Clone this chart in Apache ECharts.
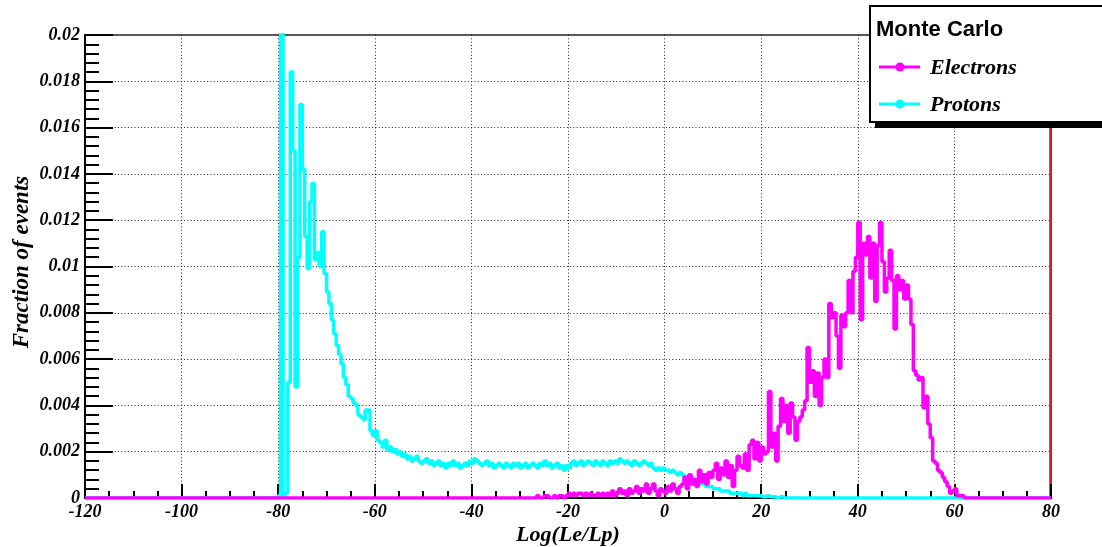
<!DOCTYPE html>
<html>
<head>
<meta charset="utf-8">
<script src="https://cdn.jsdelivr.net/npm/echarts@6/dist/echarts.min.js"></script>
<style>
html,body{margin:0;padding:0;background:#fff;}
#chart{width:1102px;height:547px;}
</style>
</head>
<body>
<div id="chart"></div>
<script>
// ---- data ----
const binWidth = 0.5;
const xRange = [-120, 80];
const yRange = [0, 0.02];
const xTickLabels = ['-120','-100','-80','-60','-40','-20','0','20','40','60','80'];
const yTickLabels = ['0','0.002','0.004','0.006','0.008','0.01','0.012','0.014','0.016','0.018','0.02'];
const seriesNames = ['Electrons', 'Protons'];
const legendTitle = 'Monte Carlo';

const protonStart = -80;
const protonValues = [
  // -80 .. -75.5
  0.0001, 0.0215, 0.0001, 0.0002, 0.0050, 0.0184, 0.0150, 0.0048, 0.0104, 0.0170,
  // -75 .. -70.5
  0.0142, 0.0113, 0.0099, 0.0128, 0.0136, 0.0103, 0.0106, 0.0100, 0.0115, 0.0097,
  // -70 .. -65.5
  0.0089, 0.0084, 0.0077, 0.0071, 0.0066, 0.0062, 0.0058, 0.0052, 0.0049, 0.0044,
  // -65 .. -60.5
  0.0043, 0.0041, 0.0040, 0.0036, 0.0035, 0.0034, 0.0038, 0.0038, 0.0029, 0.0027,
  // -60 .. -55.5
  0.0029, 0.0025, 0.0024, 0.0022, 0.0025, 0.0021, 0.0022, 0.0020, 0.0021, 0.0019,
  // -55 .. -50.5
  0.0020, 0.0018, 0.0019, 0.0017, 0.0018, 0.0016, 0.0017, 0.0018, 0.0016, 0.0015,
  // -50 .. -45.5
  0.0016, 0.0017, 0.0015, 0.0016, 0.0014, 0.0015, 0.0016, 0.0014, 0.0015, 0.0013,
  // -45 .. -40.5
  0.0015, 0.0014, 0.0016, 0.0014, 0.0015, 0.0013, 0.0014, 0.0015, 0.0014, 0.0016,
  // -40 .. -35.5
  0.0015, 0.0017, 0.0016, 0.0015, 0.0014, 0.0015, 0.0016, 0.0014, 0.0015, 0.0013,
  // -35 .. -30.5
  0.0014, 0.0015, 0.0014, 0.0013, 0.0015, 0.0014, 0.0013, 0.0015, 0.0014, 0.0015,
  // -30 .. -25.5
  0.0013, 0.0014, 0.0015, 0.0013, 0.0014, 0.0015, 0.0014, 0.0013, 0.0015, 0.0014,
  // -25 .. -20.5
  0.0016, 0.0014, 0.0015, 0.0013, 0.0014, 0.0015, 0.0013, 0.0014, 0.0012, 0.0014,
  // -20 .. -15.5
  0.0013, 0.0015, 0.0016, 0.0014, 0.0015, 0.0016, 0.0014, 0.0015, 0.0016, 0.0015,
  // -15 .. -10.5
  0.0014, 0.0016, 0.0015, 0.0014, 0.0016, 0.0015, 0.0014, 0.0016, 0.0015, 0.0016,
  // -10 .. -5.5
  0.0015, 0.0017, 0.0016, 0.0015, 0.0016, 0.0015, 0.0014, 0.0016, 0.0015, 0.0014,
  // -5 .. -0.5
  0.0015, 0.0016, 0.0015, 0.0014, 0.0015, 0.0013, 0.0012, 0.0013, 0.0012, 0.0013,
  // 0 .. 4.5
  0.0012, 0.0012, 0.0011, 0.0012, 0.0011, 0.0010, 0.0011, 0.0010, 0.0009, 0.0009,
  // 5 .. 9.5
  0.0008, 0.0009, 0.0008, 0.0007, 0.0007, 0.0006, 0.0006, 0.0005, 0.0005, 0.0005,
  // 10 .. 14.5
  0.0004, 0.0004, 0.0004, 0.0003, 0.0003, 0.0003, 0.0003, 0.0002, 0.0002, 0.0002,
  // 15 .. 19.5
  0.0002, 0.0002, 0.0001, 0.0002, 0.0001, 0.0001, 0.0001, 0.0001, 0.0001, 0.0001,
  // 20 .. 24.5
  0.00005, 0.00005, 0.0001, 0.00005, 0.00005, 0.00005, 0, 0.00005, 0.00005, 0
];

const electronStart = -27;
const electronValues = [
  // -27 .. -22.5
  0, 0.0001, 0, 0, 0.0001, 0.0001, 0, 0, 0.0001, 0,
  // -22 .. -17.5
  0.0001, 0.0001, 0, 0.0001, 0.0002, 0.0001, 0.0002, 0.0001, 0.0002, 0.0002,
  // -17 .. -12.5
  0.0001, 0.0002, 0.0001, 0.0002, 0.0001, 0.0001, 0.0002, 0.0001, 0.0002, 0.0001,
  // -12 .. -7.5
  0.0002, 0.0001, 0.0003, 0.0001, 0.0002, 0.0004, 0.0002, 0.0003, 0.0001, 0.0004,
  // -7 .. -2.5
  0.0002, 0.0003, 0.0005, 0.0002, 0.0004, 0.0003, 0.0006, 0.0002, 0.0004, 0.0006,
  // -2 .. 2.5
  0.0003, 0.0001, 0.0004, 0.0003, 0.0002, 0.0005, 0.0003, 0.0006, 0.0004, 0.0002,
  // 3 .. 7.5
  0.0005, 0.0006, 0.0009, 0.0004, 0.0010, 0.0006, 0.0008, 0.0005, 0.0012, 0.0007,
  // 8 .. 12.5
  0.0010, 0.0006, 0.0011, 0.0009, 0.0012, 0.0015, 0.0008, 0.0013, 0.0010, 0.0016,
  // 13 .. 17.5
  0.0009, 0.0014, 0.0005, 0.0012, 0.0018, 0.0014, 0.0013, 0.0019, 0.0012, 0.0023,
  // 18 .. 22.5
  0.0025, 0.0017, 0.0024, 0.0016, 0.0022, 0.0019, 0.0020, 0.0046, 0.0022, 0.0028,
  // 23 .. 27.5
  0.0016, 0.0031, 0.0043, 0.0033, 0.0040, 0.0028, 0.0041, 0.0035, 0.0025, 0.0033,
  // 28 .. 32.5
  0.0035, 0.0038, 0.0042, 0.0065, 0.0050, 0.0055, 0.0044, 0.0054, 0.0040, 0.0052,
  // 33 .. 37.5
  0.0060, 0.0052, 0.0084, 0.0078, 0.0080, 0.0070, 0.0056, 0.0079, 0.0074, 0.0080,
  // 38 .. 42.5
  0.0094, 0.0080, 0.0098, 0.0104, 0.0119, 0.0077, 0.0110, 0.0105, 0.0113, 0.0095,
  // 43 .. 47.5
  0.0110, 0.0085, 0.0109, 0.0119, 0.0102, 0.0089, 0.0095, 0.0107, 0.0094, 0.0073,
  // 48 .. 52.5
  0.0096, 0.0090, 0.0094, 0.0086, 0.0092, 0.0086, 0.0075, 0.0055, 0.0053, 0.0051,
  // 53 .. 57.5
  0.0052, 0.0039, 0.0044, 0.0032, 0.0026, 0.0016, 0.0015, 0.0012, 0.0011, 0.0009,
  // 58 .. 62.5
  0.0007, 0.0005, 0.0002, 0.0003, 0.0004, 0.0001, 0.0001, 0.0001, 0, 0
];

// ---- build histogram step points ----
function histPoints(start, vals) {
  const pts = [[xRange[0], 0]];
  vals.forEach((v, i) => pts.push([start + i * binWidth, v]));
  pts.push([start + vals.length * binWidth, 0]);
  pts.push([xRange[1], 0]);
  return pts;
}

const serifBI = {fontFamily: 'Liberation Serif', fontStyle: 'italic', fontWeight: 'bold', color: '#000'};

const chart = echarts.init(document.getElementById('chart'), null, {renderer: 'canvas'});
chart.setOption({
  animation: false,
  backgroundColor: '#fff',
  grid: {left: 85, right: 51, top: 35, bottom: 49, show: true, borderColor: '#222', borderWidth: 1.5, backgroundColor: '#fff'},
  xAxis: {
    type: 'value', min: xRange[0], max: xRange[1], interval: 20,
    axisLine: {show: true, onZero: false, lineStyle: {color: '#000', width: 2}},
    axisTick: {show: true, inside: true, length: 14, lineStyle: {color: '#000', width: 2}},
    minorTick: {show: true, splitNumber: 4, length: 7, lineStyle: {color: '#000', width: 2}},
    splitLine: {show: true, showMinLine: false, showMaxLine: false, lineStyle: {color: '#222', width: 1, type: [1, 2.3]}},
    axisLabel: Object.assign({fontSize: 18, margin: 5, formatter: v => xTickLabels[Math.round((v - xRange[0]) / 20)]}, serifBI)
  },
  yAxis: [{
    type: 'value', min: yRange[0], max: yRange[1], interval: 0.002,
    axisLine: {show: true, onZero: false, lineStyle: {color: '#000', width: 2}},
    axisTick: {show: true, inside: true, length: 28, lineStyle: {color: '#000', width: 2}},
    minorTick: {show: true, splitNumber: 5, length: 14, lineStyle: {color: '#000', width: 2}},
    splitLine: {show: true, showMinLine: false, showMaxLine: false, lineStyle: {color: '#222', width: 1, type: [1, 2.3]}},
    axisLabel: Object.assign({fontSize: 18, margin: 5, formatter: v => yTickLabels[Math.round(v / 0.002)]}, serifBI)
  }, {
    type: 'value', position: 'right', min: yRange[0], max: yRange[1], offset: -1,
    axisLine: {show: true, onZero: false, lineStyle: {color: '#ff0000', width: 1.5}},
    axisTick: {show: false}, axisLabel: {show: false}, splitLine: {show: false}
  }],
  series: [{
    name: seriesNames[1], type: 'line', step: 'end', showSymbol: false,
    data: histPoints(protonStart, protonValues),
    lineStyle: {color: '#00ffff', width: 3.5}, itemStyle: {color: '#00ffff'}
  }, {
    name: seriesNames[0], type: 'line', step: 'end', showSymbol: false,
    data: histPoints(electronStart, electronValues),
    lineStyle: {color: '#ff00ff', width: 3.5}, itemStyle: {color: '#ff00ff'}
  }],
  graphic: [
    {type: 'text', x: 568, y: 535, z: 10, style: {text: 'Log(Le/Lp)', font: 'italic bold 22px "Liberation Serif"', fill: '#000', align: 'center', verticalAlign: 'middle'}},
    {type: 'text', x: 22, y: 262, rotation: Math.PI / 2, z: 10, style: {text: 'Fraction of events', font: 'italic bold 23px "Liberation Serif"', fill: '#000', align: 'center', verticalAlign: 'middle'}},
    {type: 'rect', z: 20, shape: {x: 875, y: 12, width: 240, height: 116}, style: {fill: '#000'}},
    {type: 'rect', z: 21, shape: {x: 870, y: 6, width: 240, height: 116}, style: {fill: '#fff', stroke: '#000', lineWidth: 2}},
    {type: 'text', z: 22, x: 876, y: 30, style: {text: legendTitle, font: 'bold 22px "Liberation Sans"', fill: '#000', verticalAlign: 'middle'}},
    {type: 'line', z: 22, shape: {x1: 879, y1: 67, x2: 920, y2: 67}, style: {stroke: '#ff00ff', lineWidth: 3}},
    {type: 'circle', z: 23, shape: {cx: 900, cy: 67, r: 4.5}, style: {fill: '#ff00ff'}},
    {type: 'text', z: 22, x: 930, y: 68, style: {text: seriesNames[0], font: 'italic bold 22px "Liberation Serif"', fill: '#000', verticalAlign: 'middle'}},
    {type: 'line', z: 22, shape: {x1: 879, y1: 104, x2: 920, y2: 104}, style: {stroke: '#00ffff', lineWidth: 3}},
    {type: 'circle', z: 23, shape: {cx: 900, cy: 104, r: 4.5}, style: {fill: '#00ffff'}},
    {type: 'text', z: 22, x: 930, y: 105, style: {text: seriesNames[1], font: 'italic bold 22px "Liberation Serif"', fill: '#000', verticalAlign: 'middle'}}
  ]
});
</script>
</body>
</html>
